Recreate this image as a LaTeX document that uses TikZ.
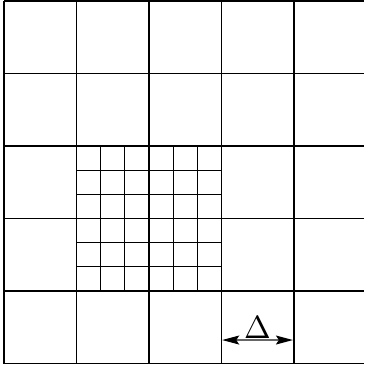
\documentclass[tikz,border=0pt]{standalone}
\usepackage{amsmath}
\usetikzlibrary{calc,arrows.meta}

\begin{document}
\begin{tikzpicture}[x=72.5pt,y=-72.5pt,line width=1.1pt]
\useasboundingbox (-0.055,-0.014) rectangle (4.966,5.048);
% coarse mesh
\foreach \y in {0,...,5}
  \draw (0,\y) -- (4.966,\y);
\foreach \x in {0,...,4}
  \draw (\x,0) -- (\x,5);

% refined patch
\foreach \i in {1,...,5}
  \draw (1+\i/3,2) -- (1+\i/3,4);
\foreach \i in {1,...,5}
  \draw (1,2+\i/3) -- (3,2+\i/3);

\coordinate (dl) at (3.01,4.676);
\coordinate (dr) at (3.985,4.676);
\draw[black!60,{Stealth[length=17pt,width=9pt,inset=3pt,black]}-{Stealth[length=17pt,width=9pt,inset=3pt,black]}] (dl) -- (dr);
\node[above,inner sep=0pt,scale=3.2] (delta) at ($(dl)!0.5!(dr)$) {$\Delta$};
\end{tikzpicture}
\end{document}
